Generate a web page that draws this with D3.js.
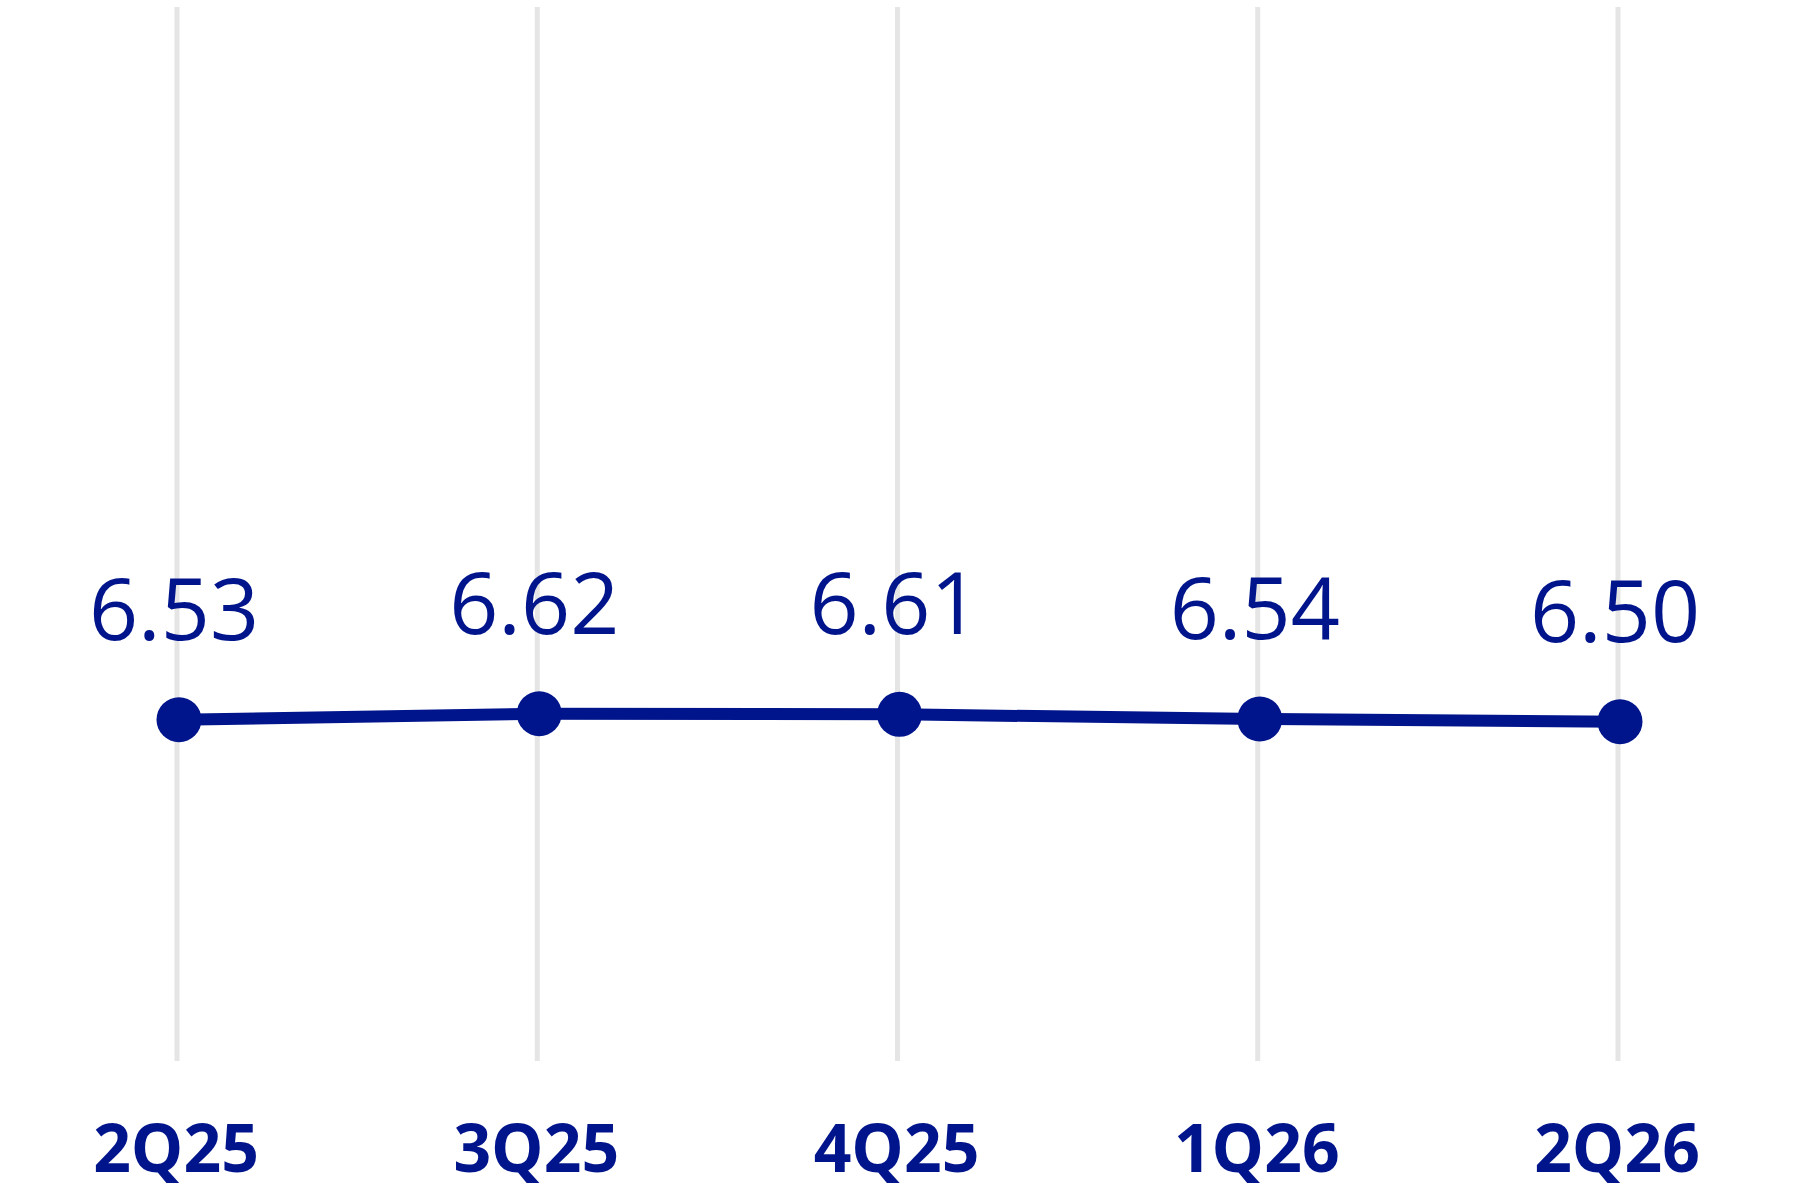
<!DOCTYPE html>
<html>
<head>
<meta charset="utf-8">
<script src="https://cdn.jsdelivr.net/npm/d3@7"></script>
<style>
  html, body { margin: 0; padding: 0; background: #fff; }
  svg { display: block; }
</style>
</head>
<body>
<div id="chart"></div>
<script>
const quarters = ['2Q25', '3Q25', '4Q25', '1Q26', '2Q26'];
const values = [6.53, 6.62, 6.61, 6.54, 6.50];

const width = 1800;
const height = 1200;
const blue = '#00148c';

const svg = d3.select('#chart')
    .append('svg')
    .attr('width', width)
    .attr('height', height);

const x = d3.scalePoint()
    .domain(quarters)
    .range([179, 1620]);

// plot area runs from the top of the grid lines to their bottom
const y = d3.scaleLinear()
    .domain([1.42, 17.2])
    .range([1061, 7]);

// grid lines
svg.append('g')
    .selectAll('line')
    .data(quarters)
    .enter()
    .append('line')
    .attr('x1', d => x(d) - 2)
    .attr('x2', d => x(d) - 2)
    .attr('y1', y.range()[1])
    .attr('y2', y.range()[0])
    .attr('stroke', '#e5e5e5')
    .attr('stroke-width', 5);

const series = quarters.map((q, i) => ({q: q, v: values[i]}));

const line = d3.line()
    .x(d => x(d.q))
    .y(d => y(d.v));

svg.append('path')
    .datum(series)
    .attr('d', line)
    .attr('fill', 'none')
    .attr('stroke', blue)
    .attr('stroke-width', 12);

svg.append('g')
    .selectAll('circle')
    .data(series)
    .enter()
    .append('circle')
    .attr('cx', d => x(d.q))
    .attr('cy', d => y(d.v))
    .attr('r', 22.5)
    .attr('fill', blue);

// value labels
svg.append('g')
    .selectAll('text')
    .data(series)
    .enter()
    .append('text')
    .attr('x', d => x(d.q) - 5)
    .attr('y', d => y(d.v) - 80)
    .attr('text-anchor', 'middle')
    .attr('fill', blue)
    .style('font-family', '"Open Sans", Roboto, sans-serif')
    .style('font-size', '86px')
    .style('font-weight', 500)
    .text(d => d.v.toFixed(2));

// category labels
svg.append('g')
    .selectAll('text')
    .data(quarters)
    .enter()
    .append('text')
    .attr('x', d => x(d) - 3)
    .attr('y', 1172)
    .attr('text-anchor', 'middle')
    .attr('fill', blue)
    .style('font-family', '"Open Sans", Roboto, sans-serif')
    .style('font-size', '66px')
    .style('font-weight', 700)
    .text(d => d);
</script>
</body>
</html>
